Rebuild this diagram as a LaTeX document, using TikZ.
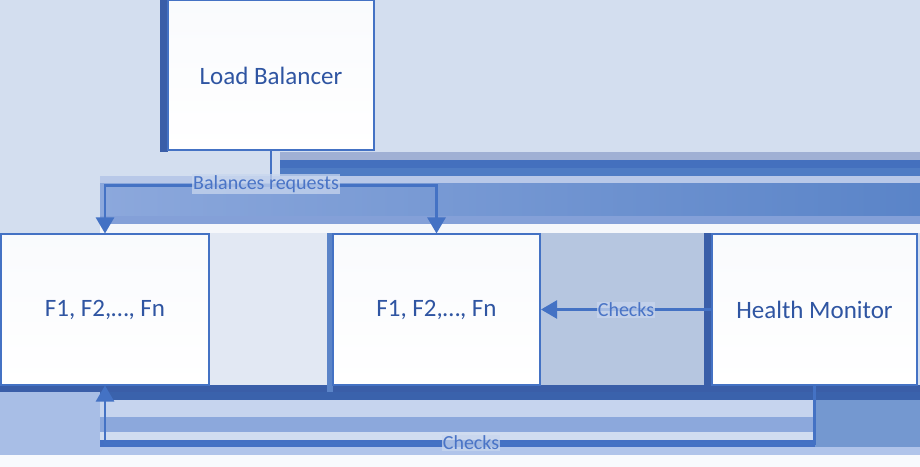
\documentclass[tikz,border=0pt]{standalone}
\usepackage{fontspec}
\setmainfont{Carlito}
\usetikzlibrary{arrows.meta}
\definecolor{bgA}{HTML}{D3DEEF}
\definecolor{edge}{HTML}{4472C4}
\definecolor{txt}{HTML}{2F55A2}
\definecolor{lab}{HTML}{4A74C6}
\definecolor{labbg}{HTML}{C8D6EE}
\definecolor{dkA}{HTML}{3A5EA8}
\begin{document}
\begin{tikzpicture}[x=1bp,y=-1bp,
  box/.style={draw=edge, line width=2bp, top color=white!92!edge!40!white, bottom color=white,
    inner sep=0pt, minimum height=150bp, text=txt, font=\fontsize{25bp}{30bp}\selectfont},
  conn/.style={draw=edge, line width=2.5bp, -{Triangle[width=18bp,length=16bp]}},
  lbl/.style={text=lab, font=\fontsize{20bp}{24bp}\selectfont, inner sep=1bp,
    fill=labbg, fill opacity=0.75, text opacity=1}]
\useasboundingbox (0,0) rectangle (920,467);
% background bands
\fill[bgA] (0,0) rectangle (920,467);
\fill[color={rgb,255:red,160;green,176;blue,212}] (280,152) rectangle (920,160);
\fill[color={rgb,255:red,68;green,112;blue,190}] (280,160) rectangle (920,168);
\fill[color={rgb,255:red,79;green,124;blue,196}] (280,168) rectangle (920,176);
\fill[color={rgb,255:red,184;green,200;blue,232}] (100,176) rectangle (920,184);
\shade[left color={rgb,255:red,140;green,168;blue,220}, right color={rgb,255:red,90;green,132;blue,200}] (100,184) rectangle (920,216);
\fill[color={rgb,255:red,132;green,160;blue,216}] (100,216) rectangle (920,224);
\fill[color={rgb,255:red,245;green,247;blue,251}] (100,224) rectangle (920,233);
\fill[color={rgb,255:red,226;green,232;blue,243}] (209,233) rectangle (332,385);
\fill[color={rgb,255:red,182;green,198;blue,224}] (541,233) rectangle (712,385);
\fill[color={rgb,255:red,248;green,250;blue,253}] (0,455) rectangle (920,467);
\fill[color={rgb,255:red,168;green,190;blue,230}] (0,385) rectangle (100,455);
\fill[dkA] (0,385) rectangle (920,392);
\fill[color={rgb,255:red,58;green,98;blue,172}] (100,392) rectangle (920,400);
\fill[color={rgb,255:red,198;green,212;blue,238}] (100,400) rectangle (815,417);
\fill[color={rgb,255:red,140;green,168;blue,220}] (100,417) rectangle (815,432);
\fill[color={rgb,255:red,208;green,220;blue,240}] (100,432) rectangle (815,440);
\fill[color={rgb,255:red,68;green,112;blue,196}] (100,440) rectangle (815,447);
\fill[color={rgb,255:red,116;green,152;blue,208}] (815,400) rectangle (920,447);
\fill[color={rgb,255:red,176;green,196;blue,234}] (100,447) rectangle (920,455);
\fill[dkA] (160,0) rectangle (168,152);
\fill[color={rgb,255:red,91;green,132;blue,200}] (327,233) rectangle (333,392);
\fill[dkA] (704,233) rectangle (712,392);
% boxes
\node[box, minimum width=206bp] (lb) at (271,75.5) {Load Balancer};
\node[box, minimum width=207bp] (f1) at (105,309.5) {F1, F2,…, Fn};
\node[box, minimum width=207bp] (f2) at (436.5,309.5) {F1, F2,…, Fn};
\node[box, minimum width=205bp] (hm) at (814.5,309.5) {Health Monitor};
% connectors
\draw[conn] (lb.south) -- ++(0,34) -| (f1.north);
\draw[conn] (lb.south) -- ++(0,34) -| (f2.north);
\draw[conn] (hm.west) -- (f2.east);
\draw[conn] (hm.south) -- ++(0,58) -| (f1.south);
% labels
\node[lbl] (lbA) at (266,184) {Balances requests};
\node[lbl] (lbB) at (626,310) {Checks};
\node[lbl] (lbC) at (471,443) {Checks};
\end{tikzpicture}
\end{document}
